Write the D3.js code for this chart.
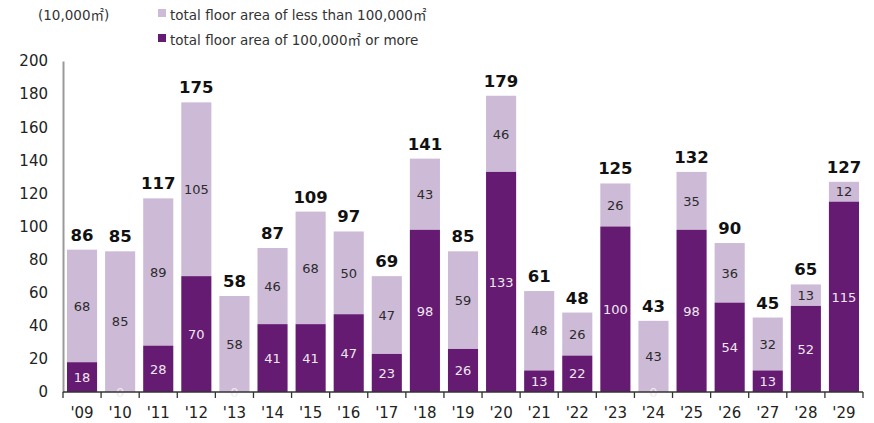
<!DOCTYPE html>
<html>
<head>
<meta charset="utf-8">
<script src="https://cdn.jsdelivr.net/npm/d3@7"></script>
<style>
  html, body { margin: 0; padding: 0; background: #fff; }
  svg { display: block; font-family: "DejaVu Sans", Verdana, sans-serif; }
  .sqm { font-family: "Noto Sans CJK JP", "Noto Sans CJK SC", sans-serif; }
</style>
</head>
<body>
<svg id="chart" width="874" height="423"></svg>
<script>
// Fiscal years on the x axis
const years = ["'09","'10","'11","'12","'13","'14","'15","'16","'17","'18","'19","'20","'21","'22","'23","'24","'25","'26","'27","'28","'29"];
// Floor area of 100,000㎡ or more (10,000㎡)
const largeArea = [18,0,28,70,0,41,41,47,23,98,26,133,13,22,100,0,98,54,13,52,115];
// Floor area of less than 100,000㎡ (10,000㎡)
const smallArea = [68,85,89,105,58,46,68,50,47,43,59,46,48,26,26,43,35,36,32,13,12];
// Published totals shown above each bar
const totals = [86,85,117,175,58,87,109,97,69,141,85,179,61,48,125,43,132,90,45,65,127];
const yTicks = [0,20,40,60,80,100,120,140,160,180,200];

const colLarge = "#651b72";
const colSmall = "#cdbad7";

const svg = d3.select("#chart");
const margin = {left: 63, right: 11, top: 61, bottom: 31};
const W = 874, H = 423;

const x = d3.scaleBand().domain(years).range([margin.left, W - margin.right]).paddingInner(0.21).paddingOuter(0.105);
const y = d3.scaleLinear().domain([0, 200]).range([H - margin.bottom, margin.top]);

const rows = years.map((yr, i) => ({yr, large: largeArea[i], small: smallArea[i], total: totals[i]}));

// Stacked bars: large segment at the bottom, small segment on top
const g = svg.append("g");
g.selectAll("rect.small").data(rows).join("rect")
  .attr("class", "small")
  .attr("x", d => x(d.yr)).attr("width", x.bandwidth())
  .attr("y", d => y(d.large + d.small))
  .attr("height", d => y(d.large) - y(d.large + d.small))
  .attr("fill", colSmall);
g.selectAll("rect.large").data(rows).join("rect")
  .attr("class", "large")
  .attr("x", d => x(d.yr)).attr("width", x.bandwidth())
  .attr("y", d => y(d.large))
  .attr("height", d => y(0) - y(d.large))
  .attr("fill", colLarge);

// Segment value labels
g.selectAll("text.lv").data(rows).join("text")
  .attr("class", "lv")
  .attr("x", d => x(d.yr) + x.bandwidth() / 2)
  .attr("y", d => y(d.large / 2))
  .attr("dy", "0.36em")
  .attr("text-anchor", "middle")
  .attr("font-size", 13)
  .attr("fill", "#f1e8f1")
  .text(d => d.large);
g.selectAll("text.sv").data(rows).join("text")
  .attr("class", "sv")
  .attr("x", d => x(d.yr) + x.bandwidth() / 2)
  .attr("y", d => y(d.large + d.small / 2))
  .attr("dy", "0.36em")
  .attr("text-anchor", "middle")
  .attr("font-size", 13)
  .attr("fill", "#2b2b2b")
  .text(d => d.small);

// Total labels
g.selectAll("text.tot").data(rows).join("text")
  .attr("class", "tot")
  .attr("x", d => x(d.yr) + x.bandwidth() / 2)
  .attr("y", d => y(d.large + d.small) - 9)
  .attr("text-anchor", "middle")
  .attr("font-size", 16.5)
  .attr("font-weight", "bold")
  .attr("fill", "#111")
  .text(d => d.total);

// Left axis
const yAxis = svg.append("g").attr("transform", `translate(${margin.left},0)`)
  .call(d3.axisLeft(y).tickValues(yTicks).tickSize(0).tickPadding(15));
yAxis.select(".domain").attr("stroke", "#999").attr("stroke-width", 2);
yAxis.selectAll("text").attr("font-size", 15).attr("fill", "#222")
  .attr("font-family", "DejaVu Sans, Verdana, sans-serif");

// Bottom axis with ticks between categories
const xAxisG = svg.append("g");
xAxisG.append("line")
  .attr("x1", margin.left).attr("x2", W - margin.right)
  .attr("y1", y(0)).attr("y2", y(0))
  .attr("stroke", "#333").attr("stroke-width", 1.3);
const boundaries = d3.range(years.length + 1).map(i => margin.left + i * (W - margin.right - margin.left) / years.length);
xAxisG.selectAll("line.tk").data(boundaries).join("line")
  .attr("class", "tk")
  .attr("x1", d => d).attr("x2", d => d)
  .attr("y1", y(0)).attr("y2", y(0) + 6)
  .attr("stroke", "#333").attr("stroke-width", 1.3);
xAxisG.selectAll("text").data(years).join("text")
  .attr("x", d => x(d) + x.bandwidth() / 2)
  .attr("y", H - 5)
  .attr("text-anchor", "middle")
  .attr("font-size", 15)
  .attr("fill", "#222")
  .text(d => d);

// Writes a label, setting the square-metre sign in a CJK face
function withSqm(sel, parts) {
  parts.forEach(p => {
    sel.append("tspan").attr("class", p === "㎡" ? "sqm" : null).text(p);
  });
}

// Unit and legend
withSqm(svg.append("text").attr("x", 38).attr("y", 20).attr("font-size", 13.5).attr("fill", "#333"),
  ["(10,000", "㎡", ")"]);
const legend = [
  {parts: ["total floor area of less than 100,000", "㎡"], color: colSmall, y: 20},
  {parts: ["total floor area of 100,000", "㎡", " or more"], color: colLarge, y: 45}
];
const lg = svg.append("g");
lg.selectAll("rect").data(legend).join("rect")
  .attr("x", 158).attr("y", d => d.y - 11).attr("width", 8).attr("height", 8).attr("fill", d => d.color);
lg.selectAll("text").data(legend).join("text")
  .attr("x", 170).attr("y", d => d.y).attr("font-size", 13.5).attr("fill", "#333")
  .each(function(d) { withSqm(d3.select(this), d.parts); });
</script>
</body>
</html>
